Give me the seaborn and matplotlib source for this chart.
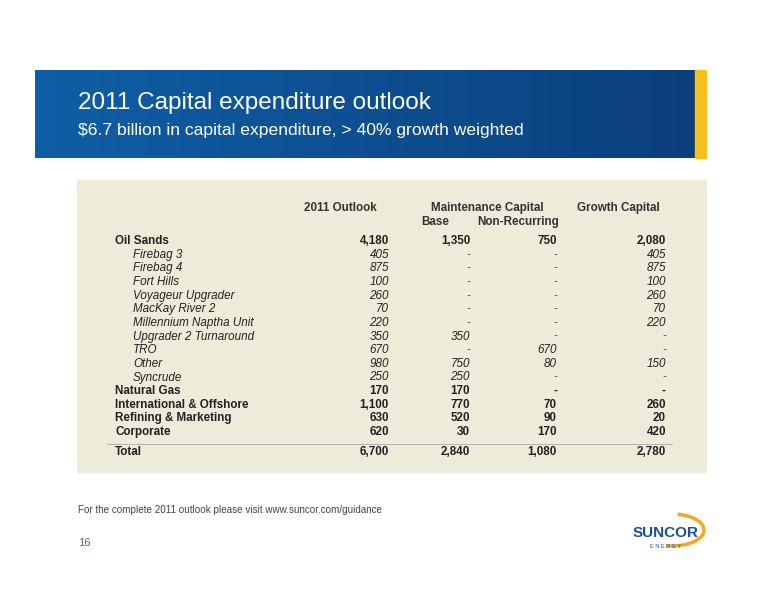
import matplotlib
matplotlib.use("Agg")
import matplotlib.pyplot as plt
import seaborn as sns
import numpy as np
from matplotlib.patches import Rectangle, Arc

sns.set_theme(style="white")
plt.rcParams['font.family'] = ['Liberation Sans', 'DejaVu Sans']

rows = ["Oil Sands", "Firebag 3", "Firebag 4", "Fort Hills", "Voyageur Upgrader", "MacKay River 2",
        "Millennium Naptha Unit", "Upgrader 2 Turnaround", "TRO", "Other", "Syncrude",
        "Natural Gas", "International & Offshore", "Refining & Marketing", "Corporate"]
is_sub = [False, True, True, True, True, True, True, True, True, True, True, False, False, False, False]
outlook = ["4,180", "405", "875", "100", "260", "70", "220", "350", "670", "980", "250", "170", "1,100", "630", "620"]
base = ["1,350", "-", "-", "-", "-", "-", "-", "350", "-", "750", "250", "170", "770", "520", "30"]
nonrec = ["750", "-", "-", "-", "-", "-", "-", "-", "670", "80", "-", "-", "70", "90", "170"]
growth = ["2,080", "405", "875", "100", "260", "70", "220", "-", "-", "150", "-", "-", "260", "20", "420"]
total = ["Total", "6,700", "2,840", "1,080", "2,780"]

fig = plt.figure(figsize=(7.76, 6), dpi=100)
ax = fig.add_axes([0, 0, 1, 1])
ax.set_xlim(0, 776)
ax.set_ylim(600, 0)
ax.axis('off')

# banner with gradient
grad = np.linspace(0, 1, 256).reshape(1, -1)
cmap = matplotlib.colors.LinearSegmentedColormap.from_list("b", ["#0f5fa6", "#0b3f7c"])
ax.imshow(grad, extent=[35, 695, 158, 70], cmap=cmap, aspect='auto', zorder=1)
ax.add_patch(Rectangle((695, 70), 11, 88, color="#f5c21b", zorder=2))
ax.text(78, 103, "2011 Capital expenditure outlook", color="white", fontsize=17.5, va='center')
ax.text(78, 130, "$6.7 billion in capital expenditure, > 40% growth weighted", color="white",
        fontsize=12.6, va='center')

# table background
ax.add_patch(Rectangle((77, 180), 629, 292, color="#efebdb", zorder=0))
fs = 8.4
ax.text(377, 208, "2011 Outlook", fontsize=fs, weight='bold', ha='right', va='center', color="#333333")
ax.text(487, 208, "Maintenance Capital", fontsize=fs, weight='bold', ha='center', va='center', color="#333333")
ax.text(618, 208, "Growth Capital", fontsize=fs, weight='bold', ha='center', va='center', color="#333333")
ax.text(435, 222, "Base", fontsize=fs, weight='bold', ha='center', va='center', color="#333333")
ax.text(518, 222, "Non-Recurring", fontsize=fs, weight='bold', ha='center', va='center', color="#333333")

xs = [389, 470, 557, 666]
for i, name in enumerate(rows):
    y = 241 + i * 13.65
    style = 'italic' if is_sub[i] else 'normal'
    weight = 'normal' if is_sub[i] else 'bold'
    ax.text(133 if is_sub[i] else 115, y, name, fontsize=fs, style=style, weight=weight,
            va='center', color="#222222")
    for x, v in zip(xs, [outlook[i], base[i], nonrec[i], growth[i]]):
        ax.text(x, y, v, fontsize=fs, style=style, weight=weight, ha='right', va='center',
                color="#555555" if (is_sub[i] and v == "-") else "#222222")
ax.plot([107, 672], [444, 444], color="#aaaaaa", lw=0.6)
ax.text(115, 452, total[0], fontsize=fs, weight='bold', va='center', color="#222222")
for x, v in zip(xs, total[1:]):
    ax.text(x, 452, v, fontsize=fs, weight='bold', ha='right', va='center', color="#222222")

ax.text(78, 510, "For the complete 2011 outlook please visit www.suncor.com/guidance",
        fontsize=7.1, va='center', color="#444444")
ax.text(78, 543, "16", fontsize=8, va='center', color="#4a6f9a")

# logo
ax.text(666, 533, "SUNCOR", fontsize=11, weight='bold', ha='center', va='center', color="#1b4f9c")
ax.text(666, 547, "E N E R G Y", fontsize=4, ha='center', va='center', color="#1b4f9c")
ax.add_patch(Arc((672, 530), 64, 32, theta1=-70, theta2=110, color="#f5a81b", lw=2.5))

fig.savefig("out.png", dpi=100)
